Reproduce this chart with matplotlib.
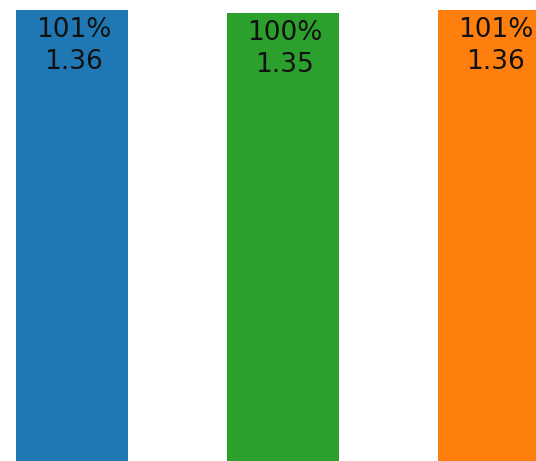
import matplotlib.pyplot as plt

categories = ["A", "B", "C"]
values = [1.36, 1.35, 1.36]
percents = ["101%", "100%", "101%"]
colors = ["#1f77b4", "#2ca02c", "#ff7f0e"]

fig = plt.figure(figsize=(5.36, 4.61), dpi=100)
ax = fig.add_axes([0, 0, 1, 1])

x = list(range(len(categories)))
bars = ax.bar(x, values, width=0.53, color=colors)

for b, v, p in zip(bars, values, percents):
    ax.annotate(f"{p}\n{v:.2f}",
                xy=(b.get_x() + b.get_width() / 2, v),
                xytext=(1, -5), textcoords="offset points",
                ha="center", va="top", fontsize=19,
                color="#111111", linespacing=1.3)

ax.set_xlim(-0.341, 2.199)
ax.set_ylim(0, 1.39)
ax.axis("off")

fig.savefig("out.png", dpi=100)
